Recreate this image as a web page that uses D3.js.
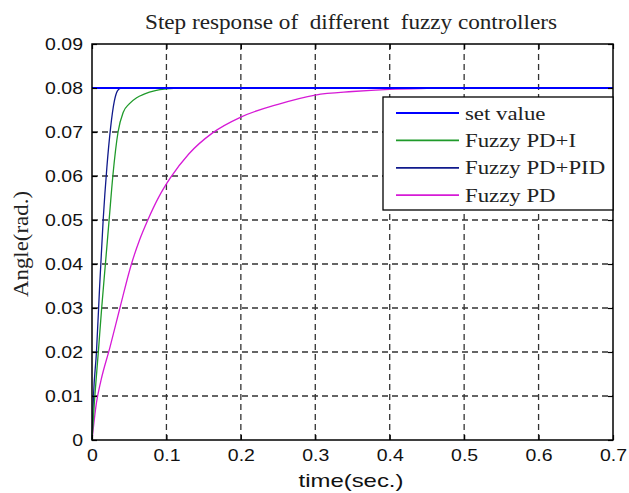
<!DOCTYPE html>
<html>
<head>
<meta charset="utf-8">
<script src="https://cdn.jsdelivr.net/npm/d3@7"></script>
<style>
  html, body { margin: 0; padding: 0; background: #fff; }
  svg { display: block; }
</style>
</head>
<body>
<svg id="chart" width="629" height="493"></svg>
<script>
// values
const xTicks = [0, 0.1, 0.2, 0.3, 0.4, 0.5, 0.6, 0.7];
const yTicks = [0, 0.01, 0.02, 0.03, 0.04, 0.05, 0.06, 0.07, 0.08, 0.09];

const setTime = [0, 0.7];
const setValue = [0.08, 0.08];

const pdiTime = [0, 0.003, 0.0085, 0.013, 0.018, 0.023, 0.028, 0.035, 0.042, 0.05, 0.06, 0.07, 0.085, 0.1, 0.12, 0.14, 0.7];
const pdiValue = [0, 0.008, 0.02, 0.03, 0.04, 0.05, 0.06, 0.07, 0.0745, 0.0764, 0.0778, 0.0786, 0.0794, 0.0798, 0.08, 0.08, 0.08];

const pidTime = [0, 0.002, 0.006, 0.01, 0.015, 0.02, 0.025, 0.03, 0.034, 0.038, 0.045, 0.06, 0.7];
const pidValue = [0, 0.01, 0.02, 0.034, 0.05, 0.062, 0.071, 0.077, 0.0793, 0.0799, 0.08, 0.08, 0.08];

const pdTime = [0, 0.006, 0.012, 0.024, 0.0375, 0.053, 0.064, 0.075, 0.09, 0.105, 0.13, 0.162, 0.2, 0.25, 0.3, 0.35, 0.4, 0.45, 0.5, 0.7];
const pdValue = [0, 0.0085, 0.0135, 0.021, 0.03, 0.04, 0.0455, 0.05, 0.0553, 0.0595, 0.065, 0.0698, 0.0734, 0.0763, 0.0784, 0.0792, 0.0797, 0.0799, 0.08, 0.08];

const seriesNames = ['set value', 'Fuzzy PD+I', 'Fuzzy PD+PID', 'Fuzzy PD'];
const seriesColors = ['#0000ff', '#1f9a2a', '#101a8c', '#d61ad6'];

const series = [
  { name: seriesNames[0], color: seriesColors[0], t: setTime, v: setValue, w: 2 },
  { name: seriesNames[1], color: seriesColors[1], t: pdiTime, v: pdiValue, w: 1.3 },
  { name: seriesNames[2], color: seriesColors[2], t: pidTime, v: pidValue, w: 1.3 },
  { name: seriesNames[3], color: seriesColors[3], t: pdTime, v: pdValue, w: 1.3 },
];

const margin = { top: 44, right: 16, bottom: 53, left: 92 };
const width = 629, height = 493;
const SANS = '"Liberation Sans", Arial, sans-serif';
const SERIF = '"Liberation Serif", "Times New Roman", serif';

const svg = d3.select('#chart');

// the source picture is a bit wider than tall, so text gets stretched sideways
function stretch(sel, k) {
  sel.each(function () {
    const w = this.getComputedTextLength();
    d3.select(this).attr('textLength', w * k).attr('lengthAdjust', 'spacingAndGlyphs');
  });
}

const x = d3.scaleLinear().domain([0, 0.7]).range([margin.left, width - margin.right]);
const y = d3.scaleLinear().domain([0, 0.09]).range([height - margin.bottom, margin.top]);

// dashed grid
const grid = svg.append('g').attr('stroke', '#333').attr('stroke-width', 1.3).attr('stroke-dasharray', '6,4');
grid.selectAll('.gx').data(xTicks.slice(1, -1)).join('line')
  .attr('x1', d => x(d)).attr('x2', d => x(d))
  .attr('y1', y(0.09)).attr('y2', y(0));
grid.selectAll('.gy').data(yTicks.slice(1, -1)).join('line')
  .attr('x1', x(0)).attr('x2', x(0.7))
  .attr('y1', d => y(d)).attr('y2', d => y(d));

// curves
const line = d3.line().curve(d3.curveMonotoneX);
svg.append('g').selectAll('path').data(series.slice().reverse()).join('path')
  .attr('fill', 'none')
  .attr('stroke', d => d.color)
  .attr('stroke-width', d => d.w)
  .attr('d', d => line(d.t.map((t, i) => [x(t), y(d.v[i])])));

// axes with inward ticks
const xAxis = svg.append('g').attr('transform', `translate(0,${y(0)})`)
  .call(d3.axisBottom(x).tickValues(xTicks).tickSize(-5).tickPadding(9)
    .tickFormat(d => d === 0 ? '0' : d3.format('.1f')(d)));
const yAxis = svg.append('g').attr('transform', `translate(${x(0)},0)`)
  .call(d3.axisLeft(y).tickValues(yTicks).tickSize(-5).tickPadding(9)
    .tickFormat(d => d === 0 ? '0' : d3.format('.2f')(d)));
const xTop = svg.append('g').attr('transform', `translate(0,${y(0.09)})`)
  .call(d3.axisTop(x).tickValues(xTicks).tickSize(-5).tickFormat(''));
const yRight = svg.append('g').attr('transform', `translate(${x(0.7)},0)`)
  .call(d3.axisRight(y).tickValues(yTicks).tickSize(-5).tickFormat(''));

[xAxis, yAxis, xTop, yRight].forEach(g => {
  g.select('.domain').remove();
  g.selectAll('.tick line').attr('stroke', '#000').attr('stroke-width', 1.2);
  g.selectAll('.tick text')
    .attr('fill', '#111')
    .style('font-family', SANS)
    .style('font-size', '16.5px');
});
stretch(xAxis.selectAll('.tick text'), 1.18);
stretch(yAxis.selectAll('.tick text'), 1.18);

// box
svg.append('rect')
  .attr('x', x(0)).attr('y', y(0.09))
  .attr('width', x(0.7) - x(0)).attr('height', y(0) - y(0.09))
  .attr('fill', 'none').attr('stroke', '#000').attr('stroke-width', 1.5);

// title & labels
svg.append('text')
  .attr('x', 351).attr('y', 29)
  .attr('text-anchor', 'middle')
  .style('font-family', SERIF)
  .style('font-size', '21.5px')
  .style('white-space', 'pre')
  .attr('fill', '#222')
  .attr('textLength', 412).attr('lengthAdjust', 'spacingAndGlyphs')
  .text('Step response of  different  fuzzy controllers');

svg.append('text')
  .attr('x', 351).attr('y', 487)
  .attr('text-anchor', 'middle')
  .style('font-family', SANS)
  .style('font-size', '19px')
  .attr('fill', '#111')
  .attr('textLength', 105).attr('lengthAdjust', 'spacingAndGlyphs')
  .text('time(sec.)');

svg.append('text')
  .attr('transform', 'translate(28,244) rotate(-90)')
  .attr('text-anchor', 'middle')
  .style('font-family', SERIF)
  .style('font-size', '21px')
  .attr('fill', '#222')
  .attr('textLength', 106).attr('lengthAdjust', 'spacingAndGlyphs')
  .text('Angle(rad.)');

// legend
const lg = svg.append('g');
lg.append('rect')
  .attr('x', 383).attr('y', 97).attr('width', x(0.7) - 383).attr('height', 113)
  .attr('fill', '#fff').attr('stroke', '#000').attr('stroke-width', 1.3);
const rows = lg.selectAll('g.row').data(series).join('g')
  .attr('transform', (d, i) => `translate(0,${113 + i * 27.4})`);
rows.append('line')
  .attr('x1', 396).attr('x2', 459)
  .attr('stroke', d => d.color).attr('stroke-width', 1.8);
const labels = rows.append('text')
  .attr('x', 465).attr('dy', '0.35em')
  .style('font-family', SERIF)
  .style('font-size', '19px')
  .attr('fill', '#222')
  .text(d => d.name);
stretch(labels, 1.2);
</script>
</body>
</html>
